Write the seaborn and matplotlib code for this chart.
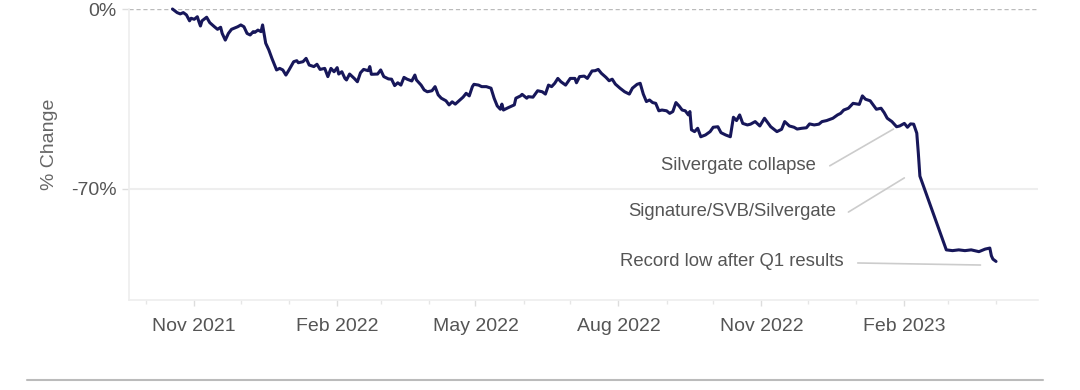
import pandas as pd
import seaborn as sns
import matplotlib.pyplot as plt
import matplotlib.dates as mdates
from matplotlib.lines import Line2D

# % change in share price
dates = [
    '2021-10-18', '2021-10-21', '2021-10-23', '2021-10-25', '2021-10-27', '2021-10-29', '2021-10-30',
    '2021-11-01', '2021-11-03', '2021-11-04', '2021-11-05', '2021-11-06', '2021-11-09', '2021-11-11',
    '2021-11-14', '2021-11-16', '2021-11-18', '2021-11-19', '2021-11-21', '2021-11-23', '2021-11-25', '2021-11-29',
    '2021-12-01', '2021-12-03', '2021-12-05', '2021-12-07', '2021-12-09', '2021-12-10', '2021-12-12', '2021-12-14',
    '2021-12-15', '2021-12-17', '2021-12-19', '2021-12-21', '2021-12-24', '2021-12-26', '2021-12-28', '2021-12-30',
    '2022-01-01', '2022-01-04', '2022-01-06', '2022-01-07', '2022-01-10', '2022-01-12', '2022-01-14', '2022-01-17',
    '2022-01-19', '2022-01-21', '2022-01-24', '2022-01-26', '2022-01-28', '2022-01-30',
    '2022-02-01', '2022-02-02', '2022-02-04', '2022-02-06', '2022-02-07', '2022-02-09', '2022-02-12', '2022-02-14',
    '2022-02-16', '2022-02-18', '2022-02-21', '2022-02-22', '2022-02-23', '2022-02-27',
    '2022-03-01', '2022-03-03', '2022-03-06', '2022-03-08', '2022-03-10', '2022-03-12', '2022-03-14', '2022-03-16',
    '2022-03-18', '2022-03-21', '2022-03-23', '2022-03-24', '2022-03-27', '2022-03-29', '2022-03-31',
    '2022-04-03', '2022-04-05', '2022-04-07', '2022-04-09', '2022-04-12', '2022-04-14', '2022-04-16', '2022-04-18',
    '2022-04-21', '2022-04-23', '2022-04-25', '2022-04-27', '2022-04-29', '2022-04-30',
    '2022-05-03', '2022-05-05', '2022-05-08', '2022-05-11', '2022-05-13', '2022-05-15', '2022-05-17', '2022-05-18',
    '2022-05-19', '2022-05-22', '2022-05-26', '2022-05-27', '2022-05-30', '2022-05-31',
    '2022-06-03', '2022-06-04', '2022-06-07', '2022-06-10', '2022-06-13', '2022-06-15', '2022-06-17', '2022-06-19',
    '2022-06-21', '2022-06-23', '2022-06-25', '2022-06-28',
    '2022-07-01', '2022-07-04', '2022-07-05', '2022-07-07', '2022-07-10', '2022-07-12', '2022-07-15', '2022-07-17',
    '2022-07-19', '2022-07-21', '2022-07-24', '2022-07-26', '2022-07-28', '2022-07-30',
    '2022-08-02', '2022-08-05', '2022-08-08', '2022-08-10', '2022-08-13', '2022-08-15', '2022-08-17', '2022-08-19',
    '2022-08-21', '2022-08-23', '2022-08-25', '2022-08-27', '2022-08-29',
    '2022-09-01', '2022-09-03', '2022-09-05', '2022-09-07', '2022-09-09', '2022-09-11', '2022-09-13', '2022-09-15',
    '2022-09-16', '2022-09-17', '2022-09-19', '2022-09-21', '2022-09-23', '2022-09-26', '2022-09-29',
    '2022-10-01', '2022-10-04', '2022-10-06', '2022-10-09', '2022-10-12', '2022-10-14', '2022-10-16', '2022-10-18',
    '2022-10-20', '2022-10-23', '2022-10-25', '2022-10-28', '2022-10-31',
    '2022-11-03', '2022-11-07', '2022-11-11', '2022-11-14', '2022-11-16', '2022-11-19', '2022-11-22', '2022-11-24',
    '2022-11-27', '2022-11-30',
    '2022-12-02', '2022-12-05', '2022-12-08', '2022-12-10', '2022-12-13', '2022-12-17', '2022-12-20', '2022-12-22',
    '2022-12-24', '2022-12-27', '2022-12-30',
    '2023-01-03', '2023-01-05', '2023-01-07', '2023-01-10', '2023-01-14', '2023-01-17', '2023-01-19', '2023-01-21',
    '2023-01-24', '2023-01-27', '2023-01-29',
    '2023-02-01', '2023-02-03', '2023-02-05', '2023-02-07', '2023-02-09', '2023-02-10', '2023-02-11', '2023-02-28',
    '2023-03-04', '2023-03-08', '2023-03-12', '2023-03-16', '2023-03-21', '2023-03-25', '2023-03-28', '2023-03-29',
    '2023-03-30', '2023-04-01',
]
pct_change = [
    0.0, -1.4, -1.9, -1.4, -2.3, -4.6, -3.6,
    -4.0, -3.0, -4.9, -6.6, -4.6, -3.2, -5.3, -6.9, -7.9, -7.1, -9.5, -12.1, -9.5, -7.9, -6.9,
    -6.2, -6.9, -9.5, -10.1, -8.8, -9.1, -8.2, -8.8, -6.2, -13.3, -15.9, -19.2, -23.7, -23.1, -23.7, -25.7,
    -23.7, -20.5, -20.1, -20.9, -20.5, -19.2, -21.8, -22.4, -21.5, -23.5, -23.1, -26.3, -23.1, -24.4,
    -22.8, -25.3, -24.4, -27.0, -27.6, -25.3, -27.0, -28.3, -24.8, -23.5, -24.0, -22.4, -25.4, -25.3,
    -23.7, -26.3, -27.2, -27.3, -29.8, -28.7, -29.6, -26.6, -27.3, -28.0, -25.7, -27.6, -29.6, -31.5, -32.2,
    -31.8, -30.2, -33.4, -34.7, -35.7, -37.3, -36.1, -37.0, -35.4, -34.3, -32.8, -33.8, -30.2, -29.3,
    -29.6, -30.2, -30.2, -30.8, -34.7, -37.7, -39.0, -37.0, -39.3, -38.4, -37.3, -34.7, -33.8, -33.2,
    -34.7, -34.1, -34.3, -31.8, -32.2, -33.1, -29.6, -30.2, -28.9, -27.0, -28.3, -29.6,
    -27.0, -27.0, -28.7, -26.3, -26.1, -27.0, -24.1, -24.0, -23.5, -25.0, -26.6, -27.9, -27.3, -29.2,
    -30.8, -32.2, -33.1, -30.8, -29.3, -28.9, -33.1, -36.0, -35.4, -36.4, -36.7, -39.6, -39.3,
    -39.6, -40.6, -39.9, -36.4, -37.7, -39.3, -39.6, -41.2, -39.9, -47.0, -47.7, -46.4, -49.7, -49.0, -47.7,
    -46.0, -45.8, -48.1, -49.0, -49.7, -42.1, -43.4, -41.2, -44.5, -45.1, -44.8, -43.8, -45.5,
    -42.5, -45.8, -47.7, -46.8, -43.8, -45.5, -46.0, -46.7, -46.4, -46.2,
    -44.7, -45.1, -44.8, -43.8, -43.4, -42.5, -41.2, -40.6, -39.3, -38.6, -36.7,
    -37.1, -33.8, -35.1, -35.7, -39.0, -38.6, -40.3, -42.5, -43.8, -45.8, -45.5,
    -44.5, -46.0, -44.7, -44.8, -48.3, -56.1, -65.0, -93.7,
    -94.0, -93.7, -94.0, -93.7, -94.4, -93.4, -93.0, -96.0, -97.3, -98.2,
]

y_ticks = [0, -70]
y_tick_labels = ['0%', '-70%']

# annotation text: (label, text anchor, line start, line end)
notes = [
    ('Silvergate collapse', ('2022-12-06', -60.9), ('2022-12-15', -61.0), ('2023-01-25', -46.7)),
    ('Signature/SVB/Silvergate', ('2022-12-19', -78.8), ('2022-12-27', -79.0), ('2023-02-01', -65.7)),
    ('Record low after Q1 results', ('2022-12-24', -98.3), ('2023-01-02', -98.8), ('2023-03-22', -99.6)),
]

df = pd.DataFrame({'date': pd.to_datetime(dates), 'change': pct_change})

sns.set_theme(style='white')
plt.rcParams['font.family'] = ['Liberation Sans', 'DejaVu Sans']

fig = plt.figure(figsize=(10.8, 3.9), dpi=100)
ax = fig.add_axes([0.1194, 0.2308, 0.8417, 0.7461])

ax.axhline(0, color='#bbbbbb', lw=1, ls=(0, (3, 2)), zorder=1)
ax.axhline(-70, color='#eeeeee', lw=1.5, zorder=1)

sns.lineplot(data=df, x='date', y='change', color='#17175a', lw=2.2,
             clip_on=False, zorder=3, ax=ax)

ax.set_xlim(pd.Timestamp('2021-09-20'), pd.Timestamp('2023-04-28'))
ax.set_ylim(-113.2, 0)

ax.set_yticks(y_ticks)
ax.set_yticklabels(y_tick_labels)
ax.xaxis.set_major_locator(mdates.MonthLocator(bymonth=[2, 5, 8, 11]))
ax.xaxis.set_major_formatter(mdates.DateFormatter('%b %Y'))
ax.xaxis.set_minor_locator(mdates.MonthLocator())

for s in ['top', 'right']:
    ax.spines[s].set_visible(False)
for s in ['left', 'bottom']:
    ax.spines[s].set_color('#eeeeee')
    ax.spines[s].set_linewidth(1.2)

ax.tick_params(axis='y', length=5, width=1, color='#dddddd', labelsize=14,
               labelcolor='#555555', pad=4, left=True)
ax.tick_params(axis='x', which='major', length=4, width=1, color='#dddddd',
               labelsize=14, labelcolor='#555555', pad=9, bottom=True)
ax.tick_params(axis='x', which='minor', length=3, width=1, color='#e6e6e6', bottom=True)

ax.set_xlabel('')
ax.set_ylabel('% Change', fontsize=14, color='#666666')
ax.yaxis.set_label_coords(-0.078, 0.536)

for label, txt, start, end in notes:
    ax.text(pd.Timestamp(txt[0]), txt[1], label, ha='right', va='center',
            fontsize=13.3, color='#555555')
    ax.annotate('', xy=(pd.Timestamp(end[0]), end[1]),
                xytext=(pd.Timestamp(start[0]), start[1]),
                arrowprops=dict(arrowstyle='-', color='#cccccc', lw=1.2,
                                shrinkA=0, shrinkB=0))

fig.add_artist(Line2D([0.025, 0.966], [0.0256, 0.0256], color='#bbbbbb', lw=1.5))

fig.savefig('out.png', dpi=100)
